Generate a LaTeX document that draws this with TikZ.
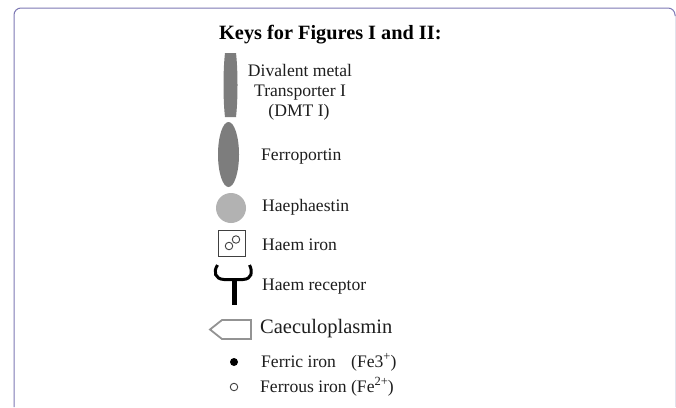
\documentclass[tikz,border=0pt]{standalone}
\usepackage{fontspec}
\setmainfont{Liberation Serif}
\usetikzlibrary{shapes.geometric}
\definecolor{frameblue}{RGB}{125,120,180}
\definecolor{framepale}{RGB}{226,226,236}
\definecolor{darkgrey}{RGB}{125,125,125}
\definecolor{lightgrey}{RGB}{178,178,178}
\definecolor{txt}{RGB}{30,30,30}
\newcommand{\bigsup}[1]{\raisebox{6.5pt}{\fontsize{12.5}{14}\selectfont #1}}
\tikzset{
  x=1pt,y=-1pt,
  lbl/.style={anchor=base west,inner sep=0pt,text=txt,font=\fontsize{17.6}{20}\selectfont},
  ctr/.style={anchor=base,inner sep=0pt,text=txt,font=\fontsize{17.6}{20}\selectfont},
  smallring/.style={circle,draw=black!75,line width=0.9pt,minimum size=7.5pt,inner sep=0pt},
}
\begin{document}
\begin{tikzpicture}
\useasboundingbox (0,0) rectangle (676,407);
\fill[white] (0,0) rectangle (676,407);
\draw[framepale,line width=1pt] (675,14) -- (675,407);
\draw[frameblue,line width=1pt,rounded corners=7pt] (14,407) -- (14,8) -- (675,8) -- (675,16);
\node[anchor=base west,inner sep=0pt,font=\bfseries\fontsize{20.3}{24}\selectfont,text=black] (title) at (219,39) {Keys for Figures I and II:};
% DMT
\fill[darkgrey] (225,53) -- (236,53) .. controls (238,70) and (238,100) .. (236,117) -- (225,117) .. controls (223,100) and (223,70) .. (225,53) -- cycle;
\node[ctr] (t1a) at (300,76) {Divalent metal};
\node[ctr] (t1b) at (300,96) {Transporter I};
\node[ctr] (t1c) at (299,116) {(DMT I)};
% Ferroportin
\node[ellipse,fill=darkgrey,minimum width=21pt,minimum height=65pt,inner sep=0pt] (fpn) at (228.5,154.5) {};
\node[lbl] (t2) at (261,160) {Ferroportin};
% Haephaestin
\node[circle,fill=lightgrey,minimum size=30pt,inner sep=0pt] (hp) at (231,208) {};
\node[lbl] (t3) at (262,211) {Haephaestin};
% Haem iron
\node[draw=black!75,line width=1pt,minimum width=27pt,minimum height=26pt,inner sep=0pt] (hi) at (232,243) {};
\node[smallring] (hi1) at (229,246) {};
\node[smallring] (hi2) at (236,239.5) {};
\node[lbl] (t4) at (262,250) {Haem iron};
% Haem receptor
\draw[black,line width=3pt] (217.5,265) .. controls (213,272) and (215,279) .. (224,279.5) -- (243,279.5) .. controls (252,279) and (253,272) .. (249.5,265);
\draw[black,line width=5pt] (234,279) -- (234,305);
\node[lbl] (t5) at (262,290) {Haem receptor};
% Caeculoplasmin
\path[draw=gray!85,line width=1.8pt,line join=miter] (251,320) -- (222,320) -- (210,329.5) -- (222,339) -- (251,339) -- cycle;
\node[anchor=base west,inner sep=0pt,text=txt,font=\fontsize{20.5}{24}\selectfont] (t6) at (260,333) {Caeculoplasmin};
% Ferric
\node[circle,fill=black,minimum size=8pt,inner sep=0pt] (fe3) at (234,362) {};
\node[lbl] (t7) at (261,367) {Ferric iron};
\node[lbl] (t7b) at (351,367) {(Fe3\bigsup{+})};
% Ferrous
\node[smallring] (fe2) at (234,387) {};
\node[lbl] (t8) at (260,392) {Ferrous iron (Fe\bigsup{2+})};
\end{tikzpicture}
\end{document}
